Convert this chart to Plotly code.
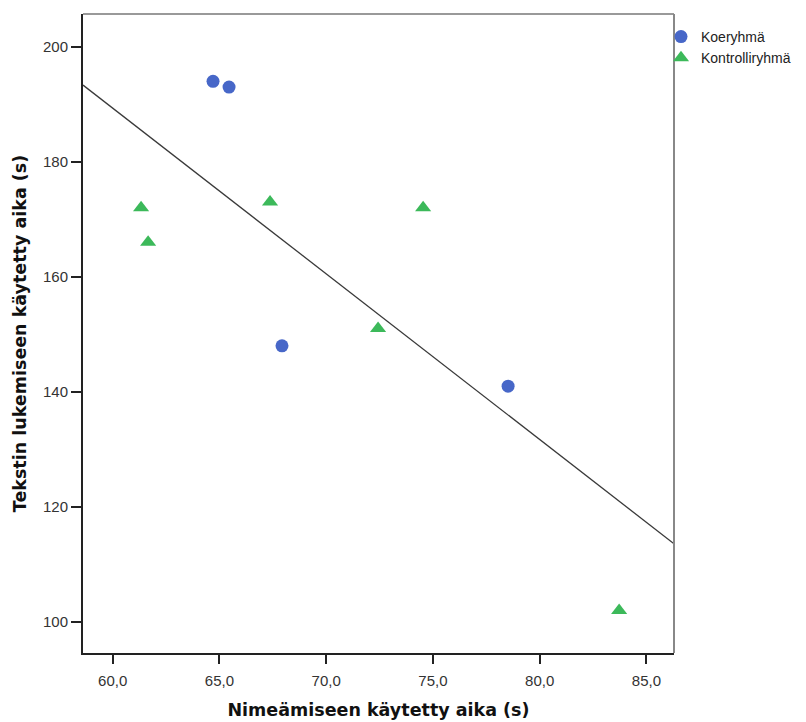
import numpy as np
import plotly.graph_objects as go

# Data
koe_x = [64.7, 65.45, 67.93, 78.52]
koe_y = [194, 193, 148, 141]
kontrolli_x = [61.33, 61.66, 67.37, 72.43, 74.54, 83.72]
kontrolli_y = [172, 166, 173, 151, 172, 102]
series_names = ["Koeryhmä", "Kontrolliryhmä"]
x_ticks = [60, 65, 70, 75, 80, 85]
y_ticks = [100, 120, 140, 160, 180, 200]
x_title = "Nimeämiseen käytetty aika (s)"
y_title = "Tekstin lukemiseen käytetty aika (s)"

x_range = [58.61, 86.29]
y_range = [94.6, 205.7]

# Linear fit over all points
all_x = np.array(koe_x + kontrolli_x)
all_y = np.array(koe_y + kontrolli_y)
slope, intercept = np.polyfit(all_x, all_y, 1)
fit_x = np.array(x_range)
fit_y = slope * fit_x + intercept

fig = go.Figure()
fig.add_trace(go.Scatter(
    x=fit_x, y=fit_y, mode="lines",
    line=dict(color="#3a3a3a", width=1.3),
    showlegend=False, hoverinfo="skip"))
fig.add_trace(go.Scatter(
    x=koe_x, y=koe_y, mode="markers", name=series_names[0],
    marker=dict(symbol="circle", size=13, color="#4767c8", line=dict(width=0))))
fig.add_trace(go.Scatter(
    x=kontrolli_x, y=kontrolli_y, mode="markers", name=series_names[1],
    marker=dict(symbol="triangle-up", size=14, color="#3cb95a", line=dict(width=0))))

tick_font = dict(family="Liberation Sans, Arial, sans-serif", size=15, color="#333333")
title_font = dict(family="DejaVu Sans, sans-serif", size=17.5, color="#111111")

fig.update_layout(
    width=806, height=722,
    margin=dict(l=83, r=132, t=14, b=69, autoexpand=False),
    paper_bgcolor="white", plot_bgcolor="white",
    separators=", ",
    legend=dict(xref="container", yref="container",
                x=661 / 806, y=1 - 21 / 722, xanchor="left", yanchor="top",
                font=dict(family="Liberation Sans, Arial, sans-serif", size=14, color="#222222"),
                tracegroupgap=0, itemwidth=30, bgcolor="rgba(0,0,0,0)"),
    xaxis=dict(range=x_range, tickvals=x_ticks, tickformat=".1f",
               showgrid=False, zeroline=False,
               showline=True, linecolor="#222222", linewidth=2,
               ticks="outside", ticklen=9, tickwidth=2, tickcolor="#222222",
               ticklabelstandoff=4,
               tickfont=tick_font,
               title=dict(text="<b>" + x_title + "</b>", font=title_font, standoff=16)),
    yaxis=dict(range=y_range, tickvals=y_ticks,
               showgrid=False, zeroline=False,
               showline=True, linecolor="#222222", linewidth=2,
               ticks="outside", ticklen=10, tickwidth=2, tickcolor="#222222",
               tickfont=tick_font,
               title=dict(text="<b>" + y_title + "</b>", font=title_font, standoff=12)),
)

# Top and right frame lines in gray
fig.add_shape(type="line", xref="paper", yref="paper", x0=0, x1=1, y0=1, y1=1,
              line=dict(color="#999999", width=2))
fig.add_shape(type="line", xref="paper", yref="paper", x0=1, x1=1, y0=0, y1=1,
              line=dict(color="#888888", width=2))

fig.write_html("out.html")
